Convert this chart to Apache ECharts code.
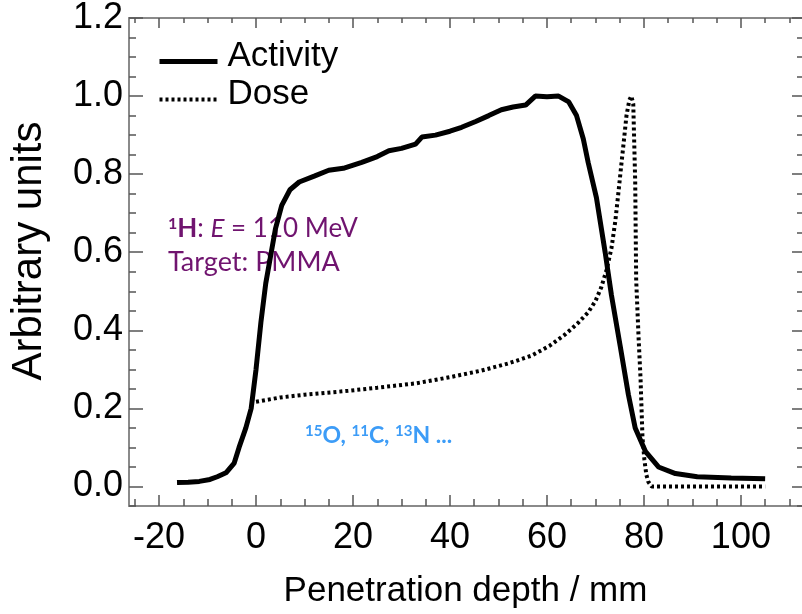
<!DOCTYPE html>
<html lang="en">
<head>
    <meta charset="utf-8" />
    <title>Activity vs Dose</title>
    <script src="https://cdn.jsdelivr.net/npm/echarts@6/dist/echarts.min.js"></script>
</head>
<body style="margin:0;">
    <div id="main" style="width:802px;height:614px;"></div>
    <script type="text/javascript">
        // data (depth in mm, arbitrary units)
        var activityX = [-16.3, -14, -11.7, -9.5, -8, -6.2, -4.5, -3.5, -2.1, -1.0, 0, 1.0, 2.0, 3.0, 4.0, 5.3, 7, 8.9, 12, 15,
            18, 21.8, 25, 27.4, 30, 32.9, 34.2, 37, 40, 42.4, 45.3, 48, 50.6, 53, 55.6, 57.6, 60, 62.4, 64.5, 66.1,
            67.5, 68.5, 70.2, 72, 73.3, 75.1, 76.8, 78.2, 80.3, 83, 86.5, 91, 98, 105];
        var activityY = [0.010, 0.011, 0.013, 0.018, 0.025, 0.035, 0.06, 0.10, 0.15, 0.20, 0.30, 0.42, 0.52, 0.59, 0.66, 0.72, 0.76, 0.78, 0.795, 0.81,
            0.815, 0.83, 0.845, 0.86, 0.866, 0.877, 0.895, 0.90, 0.91, 0.92, 0.935, 0.95, 0.965, 0.972, 0.977, 1.0, 0.998, 1.0, 0.985, 0.95,
            0.89, 0.83, 0.74, 0.60, 0.49, 0.36, 0.235, 0.15, 0.09, 0.05, 0.033, 0.025, 0.022, 0.02];
        var doseX = [0, 5, 10, 19, 25, 32.9, 40, 46.5, 52, 56.8, 60.5, 63.8, 66.5, 68.5, 70, 71.2, 72.3, 73.3, 74.1, 74.8,
            75.3, 75.9, 76.4, 77.0, 77.4, 77.8, 78.0, 78.2, 78.4, 78.9, 79.3, 79.7, 80.1, 80.5, 80.9, 81.6, 90, 105];
        var doseY = [0.217, 0.228, 0.235, 0.245, 0.253, 0.264, 0.28, 0.297, 0.315, 0.335, 0.36, 0.39, 0.42, 0.446, 0.475, 0.51, 0.555, 0.61, 0.68, 0.76,
            0.82, 0.89, 0.95, 0.99, 1.0, 0.98, 0.88, 0.78, 0.53, 0.38, 0.277, 0.126, 0.068, 0.03, 0.012, 0, 0, 0];

        var xMajor = [-20, 0, 20, 40, 60, 80, 100];
        var xMinor = [-25, -15, -10, -5, 5, 10, 15, 25, 30, 35, 45, 50, 55, 65, 70, 75, 85, 90, 95, 105, 110];
        var yMajor = [0, 0.2, 0.4, 0.6, 0.8, 1.0, 1.2];
        var yMinor = [-0.05, 0.05, 0.1, 0.15, 0.25, 0.3, 0.35, 0.45, 0.5, 0.55, 0.65, 0.7, 0.75, 0.85, 0.9, 0.95, 1.05, 1.1, 1.15];

        var labelFont = '"Liberation Sans", Arial, sans-serif';
        var noteFont = 'Lato, "Open Sans", sans-serif';

        function zip(xs, ys) {
            return xs.map(function (x, i) { return [x, ys[i]]; });
        }

        function xAx(pos, ticks, len, labels) {
            return {
                type: 'value', position: pos, min: -26.2, max: 112.6,
                axisLine: { show: labels, onZero: false, lineStyle: { color: '#8a8a8a', width: 2 } },
                axisTick: { show: true, inside: true, length: len, customValues: ticks, lineStyle: { color: '#555', width: 1.5 } },
                axisLabel: labels ? { show: true, customValues: ticks, margin: 14, color: '#000', fontSize: 36, fontFamily: labelFont } : { show: false },
                splitLine: { show: false }
            };
        }
        function yAx(pos, ticks, len, labels) {
            return {
                type: 'value', position: pos, min: -0.05, max: 1.2,
                axisLine: { show: labels, onZero: false, lineStyle: { color: '#8a8a8a', width: 2 } },
                axisTick: { show: true, inside: true, length: len, customValues: ticks, lineStyle: { color: '#555', width: 1.5 } },
                axisLabel: labels ? {
                    show: true, customValues: ticks, margin: 6, color: '#000', fontSize: 36, fontFamily: labelFont,
                    formatter: function (v) { return v.toFixed(1); }
                } : { show: false },
                splitLine: { show: false }
            };
        }

        var xb = xAx('bottom', xMajor, 11, true);
        xb.name = 'Penetration depth / mm';
        xb.nameLocation = 'middle';
        xb.nameGap = 68;
        xb.nameTextStyle = { color: '#000', fontSize: 35, fontFamily: labelFont };
        var xt = xAx('top', xMajor, 10, true);
        xt.axisLabel = { show: false };

        var yl = yAx('left', yMajor, 14, true);
        yl.name = 'Arbitrary units';
        yl.nameLocation = 'middle';
        yl.nameGap = 79;
        yl.nameTextStyle = { color: '#000', fontSize: 42, fontFamily: labelFont, padding: [0, 0, 0, 22] };
        var yr = yAx('right', yMajor, 10, false);

        var myChart = echarts.init(document.getElementById('main'));
        var option = {
            animation: false,
            backgroundColor: '#fff',
            grid: { left: 129, right: -2, top: 14, bottom: 104, containLabel: false },
            xAxis: [xb, xAx('bottom', xMinor, 7, false), xt, xAx('top', xMinor, 5, false)],
            yAxis: [yl, yAx('left', yMinor, 7, false), yr, yAx('right', yMinor, 5, false)],
            legend: {
                orient: 'vertical', left: 152, top: 34,
                itemWidth: 58, itemHeight: 14, itemGap: -7,
                data: [
                    { name: 'Activity', lineStyle: { color: '#000', width: 5 } },
                    { name: 'Dose', lineStyle: { color: '#000', width: 4, type: [3, 3] } }
                ],
                itemStyle: { opacity: 0 },
                formatter: '{t|{name}}',
                textStyle: {
                    color: '#000', fontSize: 35, fontFamily: labelFont,
                    rich: { t: { color: '#000', fontSize: 35, fontFamily: labelFont, lineHeight: 23, padding: [0, 0, 10, 5] } }
                }
            },
            series: [
                {
                    name: 'Activity', type: 'line', xAxisIndex: 0, yAxisIndex: 0,
                    symbol: 'none', data: zip(activityX, activityY),
                    lineStyle: { color: '#000', width: 5 }, itemStyle: { color: '#000' }
                },
                {
                    name: 'Dose', type: 'line', xAxisIndex: 0, yAxisIndex: 0,
                    symbol: 'none', data: zip(doseX, doseY),
                    lineStyle: { color: '#000', width: 4, type: [3, 3] }, itemStyle: { color: '#000' }
                }
            ],
            graphic: [
                {
                    type: 'text', left: 168, top: 216,
                    style: {
                        text: '{s|1}{b|H}{n|: }{i|E}{n| = 110 MeV}',
                        fill: '#70146f',
                        rich: {
                            s: { fontSize: 16, fontWeight: 'bold', fontFamily: noteFont, fill: '#70146f', verticalAlign: 'top' },
                            b: { fontSize: 26, fontWeight: 'bold', fontFamily: noteFont, fill: '#70146f' },
                            i: { fontSize: 26, fontStyle: 'italic', fontFamily: noteFont, fill: '#70146f' },
                            n: { fontSize: 26, fontFamily: noteFont, fill: '#70146f' }
                        }
                    }
                },
                {
                    type: 'text', left: 168, top: 249,
                    style: { text: 'Target: PMMA', fill: '#70146f', fontSize: 27, fontFamily: noteFont }
                },
                {
                    type: 'text', left: 305, top: 424,
                    style: {
                        text: '{s|15}{b|O, }{s|11}{b|C, }{s|13}{b|N ...}',
                        fill: '#3c9cf7',
                        rich: {
                            s: { fontSize: 15, fontWeight: 'bold', fontFamily: noteFont, fill: '#3c9cf7', verticalAlign: 'top' },
                            b: { fontSize: 23, fontWeight: 'bold', fontFamily: noteFont, fill: '#3c9cf7' }
                        }
                    }
                }
            ]
        };
        myChart.setOption(option);
    </script>
</body>
</html>
